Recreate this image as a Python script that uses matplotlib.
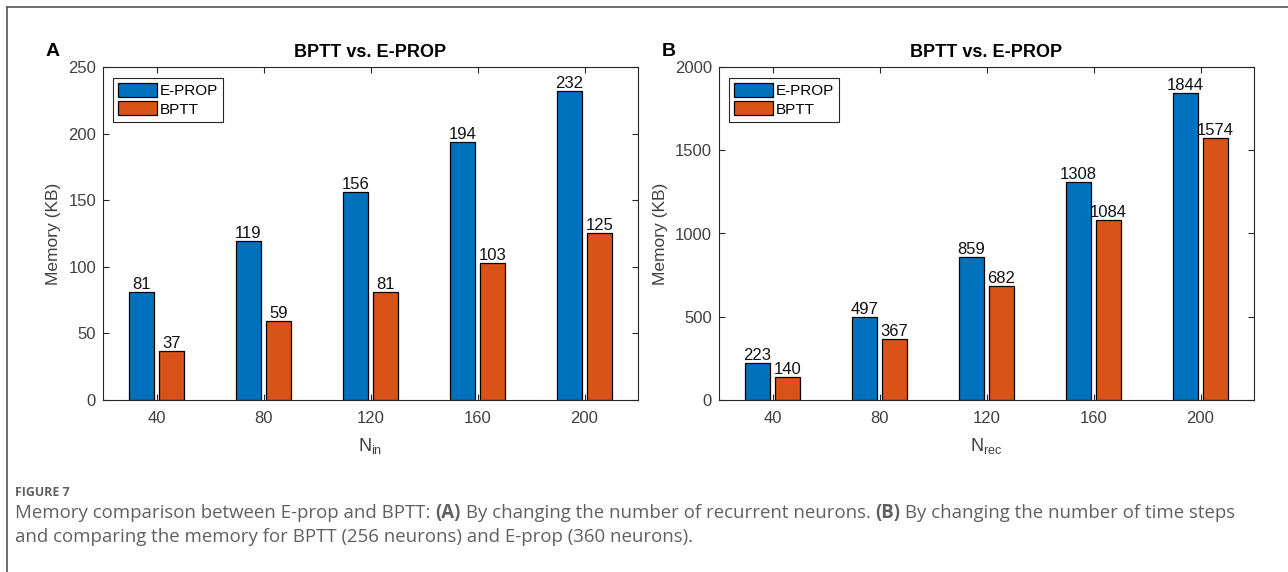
import matplotlib
matplotlib.use("Agg")
import matplotlib.pyplot as plt
import numpy as np

categories = [40, 80, 120, 160, 200]
eprop_a = [81, 119, 156, 194, 232]
bptt_a = [37, 59, 81, 103, 125]
eprop_b = [223, 497, 859, 1308, 1844]
bptt_b = [140, 367, 682, 1084, 1574]
series_labels = ["E-PROP", "BPTT"]
title = "BPTT vs. E-PROP"
ylabel = "Memory (KB)"
xlabels = [r"N$\mathregular{_{in}}$", r"N$\mathregular{_{rec}}$"]
yticks_a = [0, 50, 100, 150, 200, 250]
yticks_b = [0, 500, 1000, 1500, 2000]

BLUE = "#0072BD"
ORANGE = "#D95319"
AXC = "#262626"
TXC = "#404040"

plt.rcParams["font.family"] = ["Liberation Sans", "DejaVu Sans"]
plt.rcParams["mathtext.fontset"] = "custom"
plt.rcParams["mathtext.rm"] = "Liberation Sans"

W, H = 1288, 572
fig = plt.figure(figsize=(W / 100, H / 100), dpi=100)


def make_ax(left_px, e, b, yticks, xlab, letter, legend_label2):
    ax = fig.add_axes([left_px / W, (H - 400) / H, 535 / W, 333 / H])
    x = np.array(categories, dtype=float)
    off = 5.6
    bw = 9.4
    ax.bar(x - off, e, width=bw, color=BLUE, edgecolor="black", linewidth=0.9, label=series_labels[0])
    ax.bar(x + off, b, width=bw, color=ORANGE, edgecolor="black", linewidth=0.9, label=legend_label2)
    for xi, v in zip(x - off, e):
        ax.text(xi, v, str(v), ha="center", va="bottom", fontsize=12, color="#111111")
    for xi, v in zip(x + off, b):
        ax.text(xi, v, str(v), ha="center", va="bottom", fontsize=12, color="#111111")
    ax.set_xlim(20, 220)
    ax.set_ylim(yticks[0], yticks[-1])
    ax.set_xticks(categories)
    ax.set_yticks(yticks)
    ax.tick_params(direction="in", top=True, right=True, length=4, width=0.8,
                   colors=AXC, labelcolor=TXC, labelsize=12)
    ax.tick_params(axis="x", pad=8)
    ax.tick_params(axis="y", pad=5)
    for s in ax.spines.values():
        s.set_color(AXC)
        s.set_linewidth(0.8)
    ax.set_title(title, fontsize=13, fontweight="bold", pad=7, color="black")
    ax.set_ylabel(ylabel, fontsize=12.5, color=TXC, labelpad=5)
    ax.set_xlabel(xlab, fontsize=13, color=TXC, labelpad=7)
    leg = ax.legend(loc="upper left", bbox_to_anchor=(10 / 535, 1 - 11 / 333), borderaxespad=0,
                    fontsize=11, handlelength=2.5, handleheight=1.0, handletextpad=0.2,
                    labelspacing=0.2, borderpad=0.35, fancybox=False, framealpha=1,
                    edgecolor=AXC)
    leg.get_frame().set_linewidth(0.8)
    fig.text((left_px - 57) / W, 1 - 52 / H, letter, fontsize=14, fontweight="bold",
             ha="left", va="center")
    return ax


make_ax(103, eprop_a, bptt_a, yticks_a, xlabels[0], "A", "BPTT")
make_ax(719, eprop_b, bptt_b, yticks_b, xlabels[1], "B", "BPTT")

# frame lines
fig.add_artist(plt.Line2D([7 / W, 1.0], [1 - 7 / H, 1 - 7 / H], color="#555555", lw=1.2))
fig.add_artist(plt.Line2D([7 / W, 7 / W], [1 - 7 / H, 0], color="#555555", lw=1.2))

# caption
CAPC = "#606060"
capfont = ["Open Sans", "DejaVu Sans"]
fig.canvas.draw()
renderer = fig.canvas.get_renderer()

CAP_X = 15.0
head = fig.text(CAP_X / W, 1 - 493 / H, "FIGURE 7", fontsize=9, color=CAPC, family=capfont,
                fontweight="bold", ha="left", va="center")
hw = head.get_window_extent(renderer=renderer).width
head.set_fontsize(9 * 55.0 / hw)

line1 = [("Memory comparison between E-prop and BPTT: ", False), ("(A)", True),
         (" By changing the number of recurrent neurons. ", False), ("(B)", True),
         (" By changing the number of time steps", False)]
line2 = [("and comparing the memory for BPTT (256 neurons) and E-prop (360 neurons).", False)]


def draw_runs(y_px, runs, size):
    xpx = CAP_X
    texts = []
    for txt, bold in runs:
        t = fig.text(xpx / W, 1 - y_px / H, txt, fontsize=size, color=CAPC, family=capfont,
                     fontweight="bold" if bold else "normal", ha="left", va="center")
        bb = t.get_window_extent(renderer=renderer)
        xpx += bb.width
        texts.append(t)
    return texts, xpx - CAP_X


base = 11.0
tmp, w1 = draw_runs(513, line1, base)
for t in tmp:
    t.remove()
size = base * (1237 - CAP_X) / w1
draw_runs(513, line1, size)
draw_runs(537, line2, size)

fig.savefig("out.png", dpi=100)
